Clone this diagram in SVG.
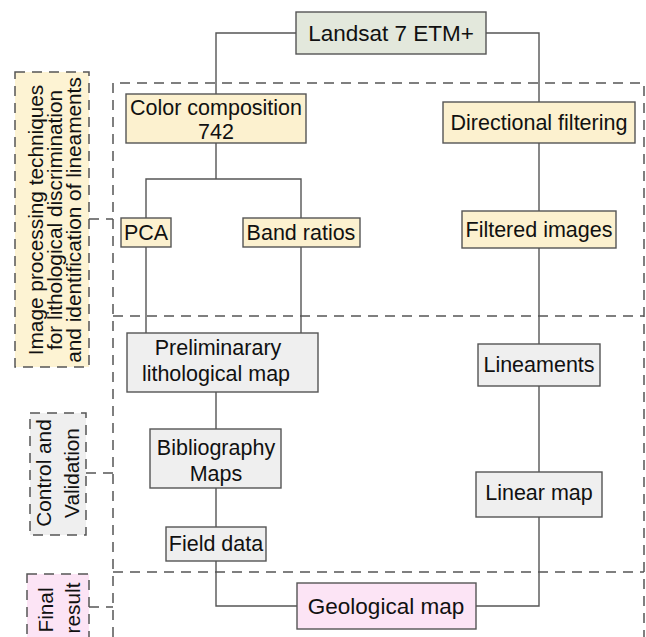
<svg xmlns="http://www.w3.org/2000/svg" width="646" height="637" viewBox="0 0 646 637">
<style>
.bg{fill:#ffffff}
.dash{fill:none;stroke:#555555;stroke-width:1.5;stroke-dasharray:10 7}
.lab{stroke:#555555;stroke-width:1.5;stroke-dasharray:10 7}
.conn{fill:none;stroke:#555555;stroke-width:1.4}
.box{stroke:#555555;stroke-width:1.4}
.green{fill:#e3e8dc}
.yellow{fill:#fcf1cf}
.gray{fill:#efefef}
.pink{fill:#fce4f5}
text{font-family:"Liberation Sans",Arial,sans-serif;font-size:21.5px;fill:#111111;text-anchor:middle}
.big{font-size:22.5px}
.rot{font-size:20.8px}
</style>
<rect class="bg" x="0" y="0" width="646" height="637"/>
<g id="frames">
<path class="dash" d="M113,637 V83 H644 V637"/>
<path class="dash" d="M113,316 H644"/>
<path class="dash" d="M113,572 H644"/>
<path class="dash" d="M89,219 H113"/>
<path class="dash" d="M86,473 H113"/>
<path class="dash" d="M89,607 H113"/>
</g>
<g id="label-image-processing">
<rect class="lab" x="15" y="72" width="74" height="295" fill="#fdf3d3"/>
<g transform="translate(43,220) rotate(-90)"><text class="rot" x="0" y="0">Image processing techniques</text></g>
<g transform="translate(62,220) rotate(-90)"><text class="rot" x="0" y="0">for lithological discrimination</text></g>
<g transform="translate(81,220) rotate(-90)"><text class="rot" x="0" y="0">and identification of lineaments</text></g>
</g>
<g id="label-control">
<rect class="lab" x="30" y="413" width="56" height="122" fill="#efefef"/>
<g transform="translate(51,473) rotate(-90)"><text class="rot" x="0" y="0">Control and</text></g>
<g transform="translate(79,473) rotate(-90)"><text class="rot" x="0" y="0">Validation</text></g>
</g>
<g id="label-final">
<rect class="lab" x="27" y="574" width="62" height="70" fill="#fce4f5"/>
<g transform="translate(53,610) rotate(-90)"><text class="rot" x="0" y="0">Final</text></g>
<g transform="translate(80,608) rotate(-90)"><text class="rot" x="0" y="0">result</text></g>
</g>
<g id="connectors">
<path class="conn" d="M296,33 H216 V94"/>
<path class="conn" d="M486,33 H539 V102"/>
<path class="conn" d="M216,143 V179 M146,218 V179 H301 V218"/>
<path class="conn" d="M539,143 V211"/>
<path class="conn" d="M146,247 V333 M301,247 V333"/>
<path class="conn" d="M539,248 V344"/>
<path class="conn" d="M216,392 V429 M216,488 V527"/>
<path class="conn" d="M539,386 V472"/>
<path class="conn" d="M216,561 V606 H297"/>
<path class="conn" d="M476,606 H539 V517"/>
</g>
<g id="landsat">
<rect class="box green" x="296" y="12" width="190" height="42"/>
<text class="big" x="391" y="41">Landsat 7 ETM+</text>
</g>
<g id="color-composition">
<rect class="box yellow" x="126" y="94" width="180" height="49"/>
<text x="216" y="115">Color composition</text>
<text x="216" y="139">742</text>
</g>
<g id="directional-filtering">
<rect class="box yellow" x="443" y="102" width="192" height="41"/>
<text x="539" y="130">Directional filtering</text>
</g>
<g id="pca">
<rect class="box yellow" x="121" y="218" width="50" height="29"/>
<text x="146" y="240">PCA</text>
</g>
<g id="band-ratios">
<rect class="box yellow" x="243" y="218" width="117" height="29"/>
<text x="301" y="240">Band ratios</text>
</g>
<g id="filtered-images">
<rect class="box yellow" x="462" y="211" width="154" height="37"/>
<text x="539" y="237">Filtered images</text>
</g>
<g id="preliminary-map">
<rect class="box gray" x="127" y="333" width="191" height="59"/>
<text x="218" y="355">Preliminarary</text>
<text x="216" y="381">lithological map</text>
</g>
<g id="lineaments">
<rect class="box gray" x="478" y="344" width="122" height="42"/>
<text x="539" y="372">Lineaments</text>
</g>
<g id="bibliography-maps">
<rect class="box gray" x="150" y="429" width="131" height="59"/>
<text x="216" y="455">Bibliography</text>
<text x="216" y="481">Maps</text>
</g>
<g id="linear-map">
<rect class="box gray" x="476" y="472" width="126" height="45"/>
<text x="539" y="500">Linear map</text>
</g>
<g id="field-data">
<rect class="box gray" x="166" y="527" width="100" height="34"/>
<text x="216" y="551">Field data</text>
</g>
<g id="geological-map">
<rect class="box pink" x="297" y="583" width="179" height="46"/>
<text class="big" x="386" y="614">Geological map</text>
</g>
</svg>
